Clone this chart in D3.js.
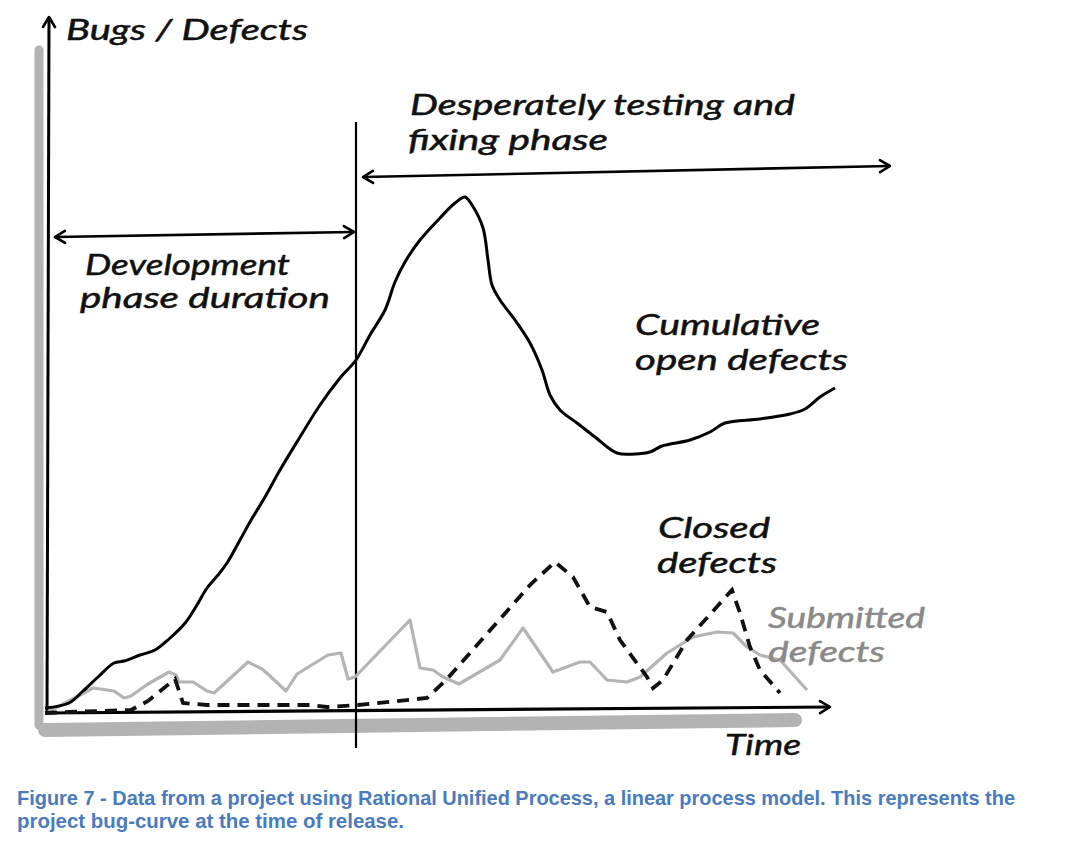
<!DOCTYPE html>
<html>
<head>
<meta charset="utf-8">
<script src="https://cdn.jsdelivr.net/npm/d3@7"></script>
<style>
  body { margin: 0; background: #ffffff; }
  .hand { font-family: "Lato", "Open Sans", sans-serif; font-style: italic; }
</style>
</head>
<body>
<script>
// time axis (arbitrary units) and defect counts
var cumTime = [0, 4.8, 7.6, 10.6, 13.8, 15.8, 19, 22, 24.8, 28.2, 30.4, 32.4, 34.6, 36.4, 39, 41, 44, 47, 51, 55, 59, 62.2, 65, 68, 70, 72, 75, 79, 82, 84, 85.4, 87.6, 88.6, 89.4, 91, 94, 97, 99.4, 101, 103, 106.4, 110, 114.4, 118, 121, 123.4, 129, 133, 136, 143, 149, 152, 155, 158];
var cumOpen = [0.4, 1.4, 3.8, 6.6, 9.4, 9.8, 11, 12, 14.2, 17.6, 21, 24.4, 27, 29.4, 34, 37.6, 42.6, 48, 54.6, 61, 66.4, 70, 75, 80, 85.6, 89.6, 94, 98.4, 101.4, 102.6, 101, 96.4, 90, 85, 82, 78, 73.4, 68, 63, 60, 57.4, 54.6, 51.4, 51.2, 51.6, 52.8, 54, 55.6, 57.4, 58.2, 59.2, 60.2, 62.6, 64.4];

var subTime = [0.6, 4.8, 9.6, 11, 13.8, 15.8, 17.2, 20.6, 24.8, 26.2, 26.8, 29.6, 32.4, 33.8, 35.8, 40.6, 43.4, 44.8, 48.2, 50.4, 56.6, 59.2, 60.6, 62, 73, 75, 77.6, 79.6, 82.8, 91, 95.6, 101.6, 107, 109, 112.4, 116.4, 119, 124.4, 129.6, 134.4, 137.6, 140.4, 143, 147, 152.4];
var submitted = [-0.4, 1.8, 4.4, 4.2, 3.8, 2.4, 2.8, 5.2, 7.6, 7, 5.6, 5.6, 3.8, 3.4, 5.2, 9.6, 8.2, 7, 3.8, 7.2, 11, 11.4, 6.2, 6.6, 18, 8.4, 8, 6.6, 5.2, 10, 16.4, 7.6, 9.6, 9.6, 6, 5.6, 6.6, 11.4, 14.6, 15.6, 15.4, 12.6, 11, 10, 4];

var closedTime = [0, 4.8, 17.2, 20.6, 26, 27.6, 32.4, 53, 56.4, 62.6, 76.4, 80, 82, 97.2, 102, 105.6, 109, 112.4, 115, 120.4, 121.6, 123.6, 128.4, 137.4, 139, 141, 143, 147];
var closedDefects = [-0.6, -0.4, 0, 1.8, 6.2, 1.4, 1, 1, 0.6, 1, 2.4, 5.8, 8, 25.2, 29.6, 26.6, 20.6, 19.6, 14, 6.6, 4.4, 6, 14, 24, 19.4, 12.6, 8, 3.4];

var releaseTime = 62.2;
var axisTitles = ["Bugs / Defects", "Time"];
var phaseLabels = [["Development", "phase duration"], ["Desperately testing and", "fixing phase"]];
var seriesLabels = [["Cumulative", "open defects"], ["Closed", "defects"], ["Submitted", "defects"]];
var caption = ["Figure 7 - Data from a project using Rational Unified Process, a linear process model. This represents the",
               "project bug-curve at the time of release."];

var width = 1078;
var height = 844;

var svg = d3.select("body").append("svg")
  .attr("width", width)
  .attr("height", height);

var x = d3.scaleLinear().domain([0, 160]).range([45, 845]);
var y = d3.scaleLinear().domain([0, 102]).range([710, 200]);

// arrow heads, open chevrons like the pen strokes
var defs = svg.append("defs");
defs.append("marker")
  .attr("id", "chev")
  .attr("viewBox", "-12 -8 14 16")
  .attr("refX", 0).attr("refY", 0)
  .attr("markerWidth", 14).attr("markerHeight", 16)
  .attr("markerUnits", "userSpaceOnUse")
  .attr("orient", "auto-start-reverse")
  .append("path")
  .attr("d", "M-10,-6 L0,0 L-10,6")
  .attr("fill", "none")
  .attr("stroke", "#000")
  .attr("stroke-width", 2.6)
  .attr("stroke-linecap", "round")
  .attr("stroke-linejoin", "round");

// grey shadows behind the axes
svg.append("line")
  .attr("x1", x(-1.2)).attr("x2", x(-1.2))
  .attr("y1", y(132)).attr("y2", y(-3))
  .attr("stroke", "#b3b3b3").attr("stroke-width", 9).attr("stroke-linecap", "round");
svg.append("line")
  .attr("x1", x(0)).attr("x2", x(150))
  .attr("y1", y(-4)).attr("y2", y(-2))
  .attr("stroke", "#b3b3b3").attr("stroke-width", 14).attr("stroke-linecap", "round");

// axes
svg.append("line")
  .attr("x1", x(0.4)).attr("x2", x(0.8))
  .attr("y1", y(-1)).attr("y2", y(138.6))
  .attr("stroke", "#000").attr("stroke-width", 3)
  .attr("marker-end", "url(#chev)");
svg.append("line")
  .attr("x1", x(0)).attr("x2", x(157))
  .attr("y1", y(-0.6)).attr("y2", y(0.6))
  .attr("stroke", "#000").attr("stroke-width", 3.2)
  .attr("marker-end", "url(#chev)");

// release line
svg.append("line")
  .attr("x1", x(releaseTime)).attr("x2", x(releaseTime))
  .attr("y1", y(117.6)).attr("y2", y(-7.6))
  .attr("stroke", "#000").attr("stroke-width", 2.2);

// phase arrows
svg.append("line")
  .attr("x1", x(2)).attr("x2", x(61.8))
  .attr("y1", y(94.6)).attr("y2", y(95.6))
  .attr("stroke", "#000").attr("stroke-width", 2.6)
  .attr("marker-start", "url(#chev)")
  .attr("marker-end", "url(#chev)");
svg.append("line")
  .attr("x1", x(63.6)).attr("x2", x(169))
  .attr("y1", y(106.6)).attr("y2", y(108.8))
  .attr("stroke", "#000").attr("stroke-width", 2.6)
  .attr("marker-start", "url(#chev)")
  .attr("marker-end", "url(#chev)");

var line = d3.line()
  .x(function(d) { return x(d[0]); })
  .y(function(d) { return y(d[1]); })
  .curve(d3.curveLinear);

svg.append("path")
  .datum(d3.zip(subTime, submitted))
  .attr("d", line)
  .attr("fill", "none")
  .attr("stroke", "#b4b4b4")
  .attr("stroke-width", 3.2)
  .attr("stroke-linejoin", "round");

svg.append("path")
  .datum(d3.zip(closedTime, closedDefects))
  .attr("d", line)
  .attr("fill", "none")
  .attr("stroke", "#111")
  .attr("stroke-width", 3.8)
  .attr("stroke-dasharray", "12,8");

svg.append("path")
  .datum(d3.zip(cumTime, cumOpen))
  .attr("d", line.curve(d3.curveCatmullRom.alpha(0.5)))
  .attr("fill", "none")
  .attr("stroke", "#000")
  .attr("stroke-width", 3)
  .attr("stroke-linejoin", "round");

// handwritten-ish labels
function label(lines, tx, vy, color, widths) {
  var t = svg.append("text")
    .attr("class", "hand")
    .attr("fill", color)
    .attr("stroke", color)
    .attr("stroke-width", 0.5)
    .attr("font-size", 29);
  lines.forEach(function(s, i) {
    t.append("tspan")
      .attr("x", x(tx[i]))
      .attr("y", y(vy[i]))
      .attr("textLength", widths[i])
      .attr("lengthAdjust", "spacingAndGlyphs")
      .text(s);
  });
}

label([axisTitles[0]], [4.2], [134], "#111", [242]);
label([axisTitles[1]], [136], [-9], "#111", [76]);
label(phaseLabels[0], [8, 7], [87, 80.4], "#111", [205, 250]);
label(phaseLabels[1], [73, 72.6], [119, 112], "#111", [385, 200]);
label(seriesLabels[0], [118, 118], [75, 68], "#111", [185, 213]);
label(seriesLabels[1], [122.6, 122.4], [34.4, 27.4], "#111", [112, 120]);
label(seriesLabels[2], [144.6, 144.6], [16.4, 9.6], "#8a8a8a", [157, 117]);

// caption
var cap = svg.append("text")
  .attr("font-family", "Liberation Sans, Arial, sans-serif")
  .attr("font-weight", "bold")
  .attr("font-size", 21)
  .attr("fill", "#4a7bbf");
cap.append("tspan").attr("x", 17).attr("y", 805).attr("textLength", 998).attr("lengthAdjust", "spacingAndGlyphs").text(caption[0]);
cap.append("tspan").attr("x", 17).attr("y", 828).attr("textLength", 387).attr("lengthAdjust", "spacingAndGlyphs").text(caption[1]);
</script>
</body>
</html>
